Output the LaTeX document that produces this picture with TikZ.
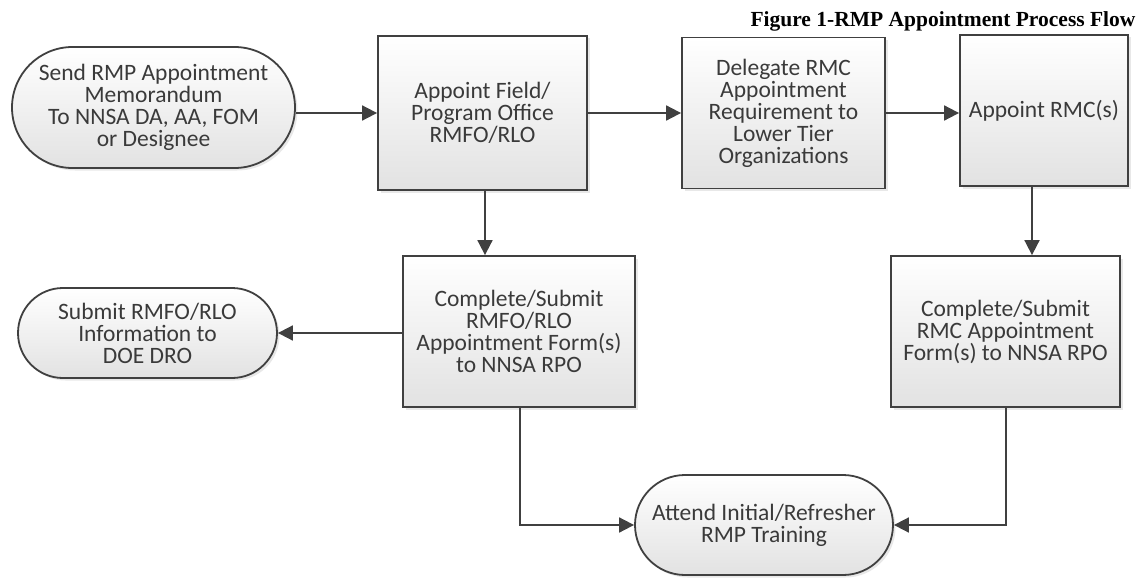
\documentclass[tikz,border=0pt]{standalone}
\usepackage{fontspec}
\setmainfont{Carlito}
\newfontfamily\titlefont{Liberation Serif}
\usetikzlibrary{arrows.meta,shadows}

\definecolor{edgegray}{HTML}{404040}
\definecolor{textgray}{HTML}{3A3A3A}
\definecolor{fillgray}{HTML}{E2E2E2}

\tikzset{
  procbox/.style={draw=edgegray, line width=1.8pt, top color=white, bottom color=fillgray,
    text=textgray, align=center, inner sep=0pt,
    drop shadow={opacity=0.18, shadow xshift=2.5pt, shadow yshift=-2.5pt},
    font=\fontsize{23.5}{22}\selectfont},
  termbox/.style={procbox, rounded corners=#1},
  flow/.style={draw=edgegray, line width=1.8pt, -{Triangle[length=15pt,width=15pt]}},
}

\begin{document}
\begin{tikzpicture}[x=1pt,y=-1pt]
\useasboundingbox (0,0) rectangle (1144,578);

\node[anchor=base east, font=\titlefont\bfseries\fontsize{21.5}{21.5}\selectfont] (title) at (1139,27) {Figure 1-RMP Appointment Process Flow};

% top row
\node[termbox=60.5pt, minimum width=283pt, minimum height=121pt] (send) at (153.5,107.5) {Send RMP Appointment\\Memorandum\\To NNSA DA, AA, FOM\\or Designee};
\node[procbox, minimum width=209pt, minimum height=154pt] (field) at (482.5,113) {Appoint Field/\\Program Office\\RMFO/RLO};
\node[procbox, minimum width=203pt, minimum height=151pt] (delegate) at (783.5,113) {Delegate RMC\\Appointment\\Requirement to\\Lower Tier\\Organizations};
\node[procbox, minimum width=168pt, minimum height=151pt] (rmc) at (1044,110.5) {Appoint RMC(s)};

% second row
\node[termbox=45pt, minimum width=259pt, minimum height=90pt] (dro) at (147.5,333) {Submit RMFO/RLO\\Information to\\DOE DRO};
\node[procbox, minimum width=232pt, minimum height=151pt] (rloform) at (519,331.5) {Complete/Submit\\RMFO/RLO\\Appointment Form(s)\\to NNSA RPO};
\node[procbox, minimum width=229pt, minimum height=151pt] (rmcform) at (1005.5,331.5) {Complete/Submit\\RMC Appointment\\Form(s) to NNSA RPO};

% bottom
\node[termbox=50pt, minimum width=258pt, minimum height=100pt] (training) at (764,525) {Attend Initial/Refresher\\RMP Training};

% arrows
\draw[flow] (field.west -| send.east) -- (field.west);
\draw[flow] (field.east) -- (field.east -| delegate.west);
\draw[flow] (delegate.east) -- (delegate.east -| rmc.west);
\draw[flow] ([xshift=2.5pt]field.south) -- ([xshift=2.5pt]field.south |- rloform.north);
\draw[flow] ([xshift=-12pt]rmc.south) -- ([xshift=-12pt]rmc.south |- rmcform.north);
\draw[flow] (dro.east -| rloform.west) -- (dro.east);
\draw[flow] ([xshift=1pt]rloform.south) |- (training.west);
\draw[flow] ([xshift=0.5pt]rmcform.south) |- (training.east);
\end{tikzpicture}
\end{document}
